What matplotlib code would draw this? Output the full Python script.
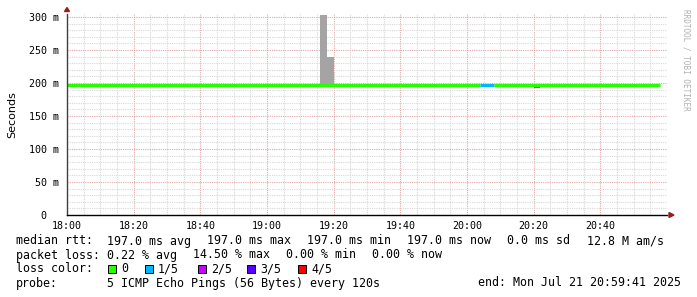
import matplotlib

matplotlib.use("Agg")
import matplotlib.pyplot as plt
import numpy as np
from matplotlib.patches import Rectangle

W, H = 697, 297
MONO = "DejaVu Sans Mono"

# time axis in minutes after 18:00, 2-minute steps
tick_labels = ["18:00", "18:20", "18:40", "19:00", "19:20", "19:40", "20:00", "20:20", "20:40"]
ytick_labels = ["0  ", "50 m", "100 m", "150 m", "200 m", "250 m", "300 m"]
yticks_ms = [0, 50, 100, 150, 200, 250, 300]

# median rtt segments: start, end (min after 18:00), value (ms), loss count of 5
seg_start = [0, 124, 128]
seg_end = [124, 128, 178]
seg_median = [197.0, 197.0, 197.0]
seg_loss = [0, 1, 0]

# smoke (min..max spread) bins
smoke_start = [76, 78, 140]
smoke_end = [78, 80, 142]
smoke_lo = [197.0, 197.0, 192.5]
smoke_hi = [303.0, 240.0, 196.0]
smoke_col = ["#a4a4a4", "#a4a4a4", "#6e6e6e"]

loss_names = ["0", "1/5", "2/5", "3/5", "4/5"]
loss_colors = ["#26ff00", "#00b8ff", "#c800ff", "#5500ff", "#ff0000"]

rtt_items = ["197.0 ms avg", "197.0 ms max", "197.0 ms min", "197.0 ms now", "0.0 ms sd", "12.8 M am/s"]
loss_items = ["0.22 % avg", "14.50 % max", "0.00 % min", "0.00 % now"]
probe_text = "5 ICMP Echo Pings (56 Bytes) every 120s"
end_text = "end: Mon Jul 21 20:59:41 2025"

# pixel columns of the legend fields
rtt_x = [107, 207, 307, 407, 507, 587]
loss_x = [107, 193, 286, 372]
box_x = [108, 145, 198, 247, 298]


def fx(px):
    return px / W


def fy(py):
    return 1 - py / H


fig = plt.figure(figsize=(W / 100, H / 100), dpi=100)
fig.patch.set_facecolor("white")

x0, x1, ytop, ybot = 67, 667, 14, 215
ax = fig.add_axes([fx(x0), fy(ybot), (x1 - x0) / W, (ybot - ytop) / H])
ax.set_xlim(0, 180)
ax.set_ylim(0, (ybot - ytop) / 0.66)
for s in ax.spines.values():
    s.set_visible(False)
ax.set_facecolor("white")

dot = (0, (1, 1))
for m in range(5, 180, 5):
    major = m % 20 == 0
    ax.axvline(m, color="#e0a8a8" if major else "#d8d8d8", lw=0.8, ls=dot, zorder=1)
for v in range(10, 301, 10):
    major = v % 50 == 0
    ax.axhline(v, color="#e0a8a8" if major else "#d8d8d8", lw=0.8, ls=dot, zorder=1)

for s, e, lo, hi, c in zip(smoke_start, smoke_end, smoke_lo, smoke_hi, smoke_col):
    ax.add_patch(Rectangle((s, lo), e - s, hi - lo, color=c, lw=0, zorder=2))

for s, e, v, l in zip(seg_start, seg_end, seg_median, seg_loss):
    ax.hlines(v, s, e, color=loss_colors[l], lw=2.3, zorder=4)

ax.set_xticks(np.arange(0, 180, 20))
ax.set_xticklabels(tick_labels, family=MONO, fontsize=7.2)
ax.set_yticks(yticks_ms)
ax.set_yticklabels(ytick_labels, family=MONO, fontsize=7.2)
ax.tick_params(length=0, pad=6)
ax.tick_params(axis="x", pad=4)
ax.set_ylabel("Seconds", family="DejaVu Sans", fontsize=8, labelpad=8)

# axis lines with arrows
ax.plot([0, 0], [0, ax.get_ylim()[1]], color="#404040", lw=1, zorder=5, clip_on=False)
ax.plot([0, 180], [0, 0], color="black", lw=1, zorder=5, clip_on=False)
fig.patches.append(plt.Polygon([[fx(64.5), fy(11.5)], [fx(69.5), fy(11.5)], [fx(67), fy(7.5)]],
                               closed=True, color="#9c1c1c", transform=fig.transFigure))
fig.patches.append(plt.Polygon([[fx(669), fy(212.5)], [fx(669), fy(217.5)], [fx(674), fy(215)]],
                               closed=True, color="#9c1c1c", transform=fig.transFigure))

fig.text(fx(686), fy(60), "RRDTOOL / TOBI OETIKER", rotation=270, family=MONO, fontsize=5.5,
         color="#b0b0b0", ha="center", va="center")

fs = 8.4
kw = dict(family=MONO, fontsize=fs, va="center")
fig.text(fx(16), fy(241), "median rtt:", **kw)
for x, t in zip(rtt_x, rtt_items):
    fig.text(fx(x), fy(241), t, **kw)
fig.text(fx(16), fy(255), "packet loss:", **kw)
for x, t in zip(loss_x, loss_items):
    fig.text(fx(x), fy(255), t, **kw)
fig.text(fx(16), fy(269), "loss color:", **kw)
for x, name, col in zip(box_x, loss_names, loss_colors):
    fig.patches.append(Rectangle((fx(x), fy(273)), 8 / W, 8 / H, facecolor=col,
                                 edgecolor="black", lw=0.7, transform=fig.transFigure))
    fig.text(fx(x + 13), fy(269), name, **kw)
fig.text(fx(16), fy(283), "probe:", **kw)
fig.text(fx(107), fy(283), probe_text, **kw)
fig.text(fx(681), fy(283), end_text, ha="right", family=MONO, fontsize=fs, va="center")

fig.savefig("out.png", dpi=100)
